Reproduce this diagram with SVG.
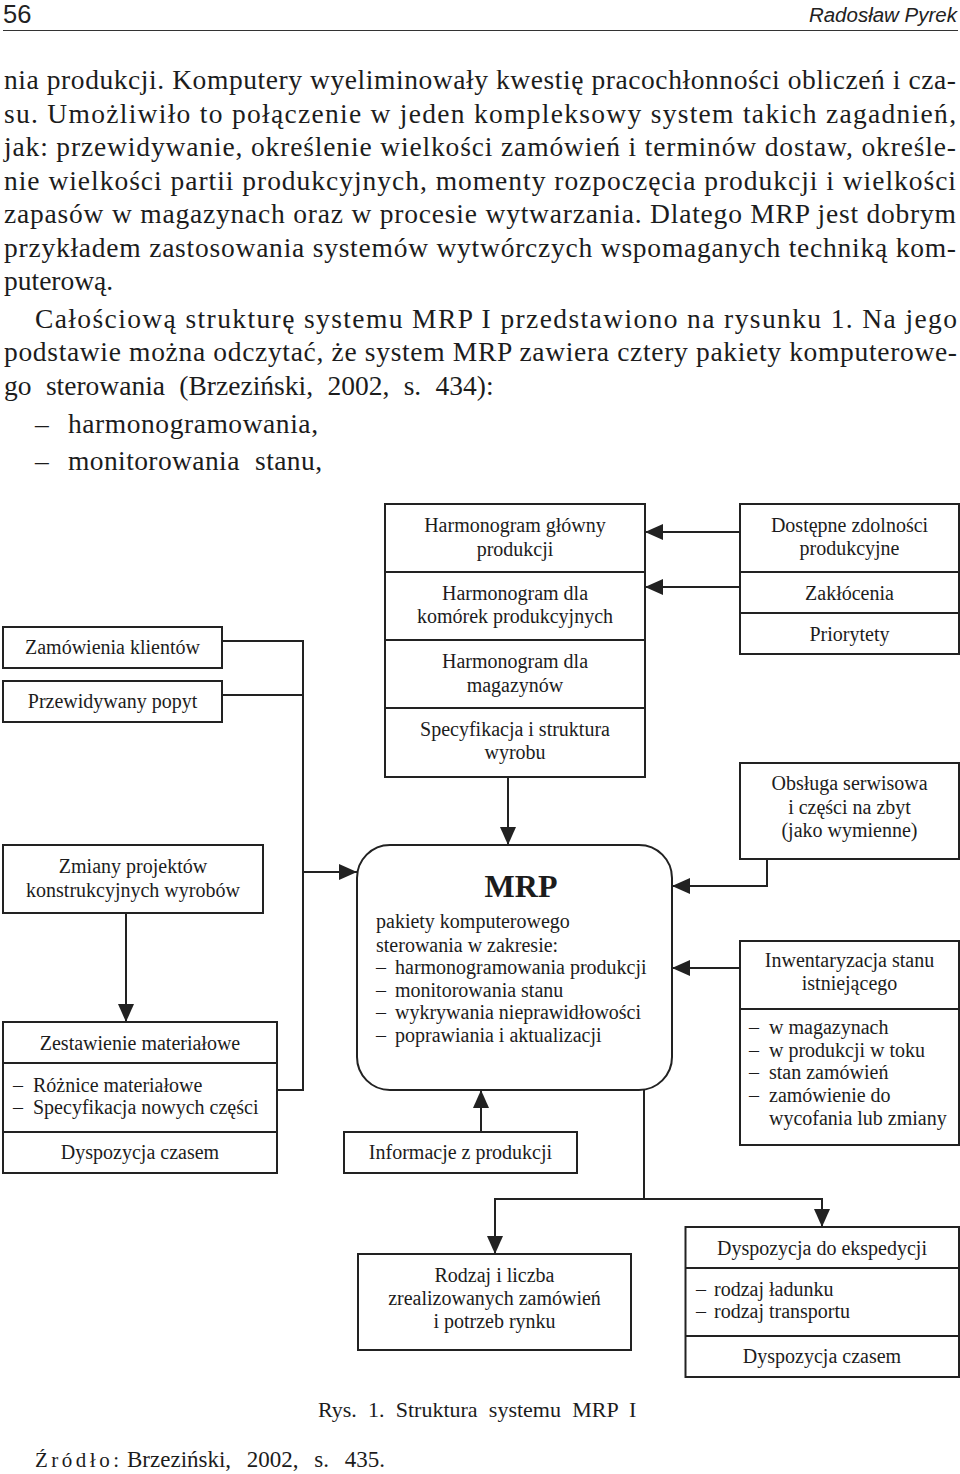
<svg xmlns="http://www.w3.org/2000/svg" width="960" height="1474" viewBox="0 0 960 1474">
<style>
.b{font-family:"Liberation Serif","Times New Roman",serif;font-size:27.5px;fill:#1c1c1c}
.d{font-family:"Liberation Serif","Times New Roman",serif;font-size:20px;fill:#1c1c1c}
.c{text-anchor:middle}
.box{fill:#fff;stroke:#222;stroke-width:2}
.div{stroke:#222;stroke-width:2}
.conn{fill:none;stroke:#222;stroke-width:2}
</style>
<defs>
<marker id="ah" markerWidth="18" markerHeight="16" refX="18" refY="8" orient="auto" markerUnits="userSpaceOnUse">
<path d="M0,0 L18,8 L0,16 z" fill="#222"/>
</marker>
</defs>
<rect width="960" height="1474" fill="#fff"/>

<g id="header">
<text x="3" y="23.3" style="font-family:'Liberation Sans',Arial,sans-serif;font-size:25.5px;fill:#222">56</text>
<text x="957" y="22" text-anchor="end" style="font-family:'Liberation Sans',Arial,sans-serif;font-style:italic;font-size:20.5px;fill:#222">Radosław Pyrek</text>
<line x1="3" y1="30.5" x2="958" y2="30.5" stroke="#333" stroke-width="1.2"/>
</g>

<g id="body-text">
<text class="b" x="4" y="89" textLength="952" lengthAdjust="spacing">nia produkcji. Komputery wyeliminowały kwestię pracochłonności obliczeń i cza-</text>
<text class="b" x="4" y="123" textLength="952" lengthAdjust="spacing">su. Umożliwiło to połączenie w jeden kompleksowy system takich zagadnień,</text>
<text class="b" x="4" y="156" textLength="952" lengthAdjust="spacing">jak: przewidywanie, określenie wielkości zamówień i terminów dostaw, określe-</text>
<text class="b" x="4" y="190" textLength="952" lengthAdjust="spacing">nie wielkości partii produkcyjnych, momenty rozpoczęcia produkcji i wielkości</text>
<text class="b" x="4" y="223" textLength="952" lengthAdjust="spacing">zapasów w magazynach oraz w procesie wytwarzania. Dlatego MRP jest dobrym</text>
<text class="b" x="4" y="257" textLength="952" lengthAdjust="spacing">przykładem zastosowania systemów wytwórczych wspomaganych techniką kom-</text>
<text class="b" x="4" y="290">puterową.</text>
<text class="b" x="35" y="328" textLength="922" lengthAdjust="spacing">Całościową strukturę systemu MRP I przedstawiono na rysunku 1. Na jego</text>
<text class="b" x="4" y="361" textLength="953" lengthAdjust="spacing">podstawie można odczytać, że system MRP zawiera cztery pakiety komputerowe-</text>
<text class="b" x="4" y="395" word-spacing="7.5">go sterowania (Brzeziński, 2002, s. 434):</text>
<text class="b" x="35" y="433">–</text>
<text class="b" x="68" y="433" textLength="250" lengthAdjust="spacing">harmonogramowania,</text>
<text class="b" x="35" y="470">–</text>
<text class="b" x="68" y="470" word-spacing="8" textLength="254" lengthAdjust="spacing">monitorowania stanu,</text>
</g>

<g id="connectors">
<path class="conn" d="M222,641 H303 V1090 H277"/>
<path class="conn" d="M222,695 H303"/>
<path class="conn" d="M303,872 H357" marker-end="url(#ah)"/>
<path class="conn" d="M740,532 H645" marker-end="url(#ah)"/>
<path class="conn" d="M740,587 H645" marker-end="url(#ah)"/>
<path class="conn" d="M508,777 V845" marker-end="url(#ah)"/>
<path class="conn" d="M767,859 V886 H672" marker-end="url(#ah)"/>
<path class="conn" d="M740,968 H672" marker-end="url(#ah)"/>
<path class="conn" d="M481,1132 V1090" marker-end="url(#ah)"/>
<path class="conn" d="M126,913 V1022" marker-end="url(#ah)"/>
<path class="conn" d="M644,1090 V1199"/>
<path class="conn" d="M644,1199 H495 V1254" marker-end="url(#ah)"/>
<path class="conn" d="M644,1199 H822 V1227" marker-end="url(#ah)"/>
</g>

<g id="harmonogram-stack">
<rect class="box" x="385" y="504" width="260" height="273"/>
<line class="div" x1="385" y1="572" x2="645" y2="572"/>
<line class="div" x1="385" y1="640" x2="645" y2="640"/>
<line class="div" x1="385" y1="708" x2="645" y2="708"/>
<text class="d c" x="515" y="532">Harmonogram główny</text>
<text class="d c" x="515" y="556">produkcji</text>
<text class="d c" x="515" y="600">Harmonogram dla</text>
<text class="d c" x="515" y="623">komórek produkcyjnych</text>
<text class="d c" x="515" y="668">Harmonogram dla</text>
<text class="d c" x="515" y="692">magazynów</text>
<text class="d c" x="515" y="736">Specyfikacja i struktura</text>
<text class="d c" x="515" y="759">wyrobu</text>
</g>

<g id="zdolnosci-stack">
<rect class="box" x="740" y="504" width="219" height="150"/>
<line class="div" x1="740" y1="572" x2="959" y2="572"/>
<line class="div" x1="740" y1="613" x2="959" y2="613"/>
<text class="d c" x="849.5" y="532">Dostępne zdolności</text>
<text class="d c" x="849.5" y="555">produkcyjne</text>
<text class="d c" x="849.5" y="600">Zakłócenia</text>
<text class="d c" x="849.5" y="641">Priorytety</text>
</g>

<g id="zamowienia">
<rect class="box" x="3" y="627" width="219" height="41"/>
<text class="d c" x="112.5" y="654">Zamówienia klientów</text>
</g>

<g id="popyt">
<rect class="box" x="3" y="681" width="219" height="41"/>
<text class="d c" x="112.5" y="708">Przewidywany popyt</text>
</g>

<g id="obsluga">
<rect class="box" x="740" y="763" width="219" height="96"/>
<text class="d c" x="849.5" y="790">Obsługa serwisowa</text>
<text class="d c" x="849.5" y="814">i części na zbyt</text>
<text class="d c" x="849.5" y="837">(jako wymienne)</text>
</g>

<g id="zmiany">
<rect class="box" x="3" y="845" width="260" height="68"/>
<text class="d c" x="133" y="873">Zmiany projektów</text>
<text class="d c" x="133" y="897">konstrukcyjnych wyrobów</text>
</g>

<g id="mrp">
<rect class="box" x="357" y="845" width="315" height="245" rx="33" ry="33"/>
<text x="521" y="897" text-anchor="middle" style="font-family:'Liberation Serif','Times New Roman',serif;font-weight:bold;font-size:32px;fill:#1c1c1c">MRP</text>
<text class="d" x="376" y="928">pakiety komputerowego</text>
<text class="d" x="376" y="952">sterowania w zakresie:</text>
<text class="d" x="376" y="974">–</text><text class="d" x="395" y="974">harmonogramowania produkcji</text>
<text class="d" x="376" y="997">–</text><text class="d" x="395" y="997">monitorowania stanu</text>
<text class="d" x="376" y="1019">–</text><text class="d" x="395" y="1019">wykrywania nieprawidłowości</text>
<text class="d" x="376" y="1042">–</text><text class="d" x="395" y="1042">poprawiania i aktualizacji</text>
</g>

<g id="inwentaryzacja">
<rect class="box" x="740" y="941" width="219" height="204"/>
<line class="div" x1="740" y1="1009" x2="959" y2="1009"/>
<text class="d c" x="849.5" y="967">Inwentaryzacja stanu</text>
<text class="d c" x="849.5" y="990">istniejącego</text>
<text class="d" x="749" y="1034">–</text><text class="d" x="769" y="1034">w magazynach</text>
<text class="d" x="749" y="1057">–</text><text class="d" x="769" y="1057">w produkcji w toku</text>
<text class="d" x="749" y="1079">–</text><text class="d" x="769" y="1079">stan zamówień</text>
<text class="d" x="749" y="1102">–</text><text class="d" x="769" y="1102">zamówienie do</text>
<text class="d" x="769" y="1125">wycofania lub zmiany</text>
</g>

<g id="zestawienie">
<rect class="box" x="3" y="1022" width="274" height="151"/>
<line class="div" x1="3" y1="1063" x2="277" y2="1063"/>
<line class="div" x1="3" y1="1132" x2="277" y2="1132"/>
<text class="d c" x="140" y="1050">Zestawienie materiałowe</text>
<text class="d" x="13" y="1092">–</text><text class="d" x="33" y="1092">Różnice materiałowe</text>
<text class="d" x="13" y="1114">–</text><text class="d" x="33" y="1114">Specyfikacja nowych części</text>
<text class="d c" x="140" y="1159">Dyspozycja czasem</text>
</g>

<g id="informacje">
<rect class="box" x="344" y="1132" width="233" height="41"/>
<text class="d c" x="460.5" y="1159">Informacje z produkcji</text>
</g>

<g id="rodzaj">
<rect class="box" x="358" y="1254" width="273" height="96"/>
<text class="d c" x="494.5" y="1282">Rodzaj i liczba</text>
<text class="d c" x="494.5" y="1305">zrealizowanych zamówień</text>
<text class="d c" x="494.5" y="1328">i potrzeb rynku</text>
</g>

<g id="dyspozycja">
<rect class="box" x="685.5" y="1227" width="273.5" height="150"/>
<line class="div" x1="685.5" y1="1268" x2="959" y2="1268"/>
<line class="div" x1="685.5" y1="1336" x2="959" y2="1336"/>
<text class="d c" x="822" y="1255">Dyspozycja do ekspedycji</text>
<text class="d" x="696" y="1296">–</text><text class="d" x="714" y="1296">rodzaj ładunku</text>
<text class="d" x="696" y="1318">–</text><text class="d" x="714" y="1318">rodzaj transportu</text>
<text class="d c" x="822" y="1363">Dyspozycja czasem</text>
</g>

<g id="caption">
<text x="318" y="1417" word-spacing="5.7" style="font-family:'Liberation Serif','Times New Roman',serif;font-size:22px;fill:#1c1c1c">Rys. 1. Struktura systemu MRP I</text>
<text x="35" y="1467" letter-spacing="3.5" style="font-family:'Liberation Serif','Times New Roman',serif;font-size:21px;fill:#1c1c1c">Źródło:</text>
<text x="127" y="1467" word-spacing="10" style="font-family:'Liberation Serif','Times New Roman',serif;font-size:23px;fill:#1c1c1c">Brzeziński, 2002, s. 435.</text>
</g>
</svg>
